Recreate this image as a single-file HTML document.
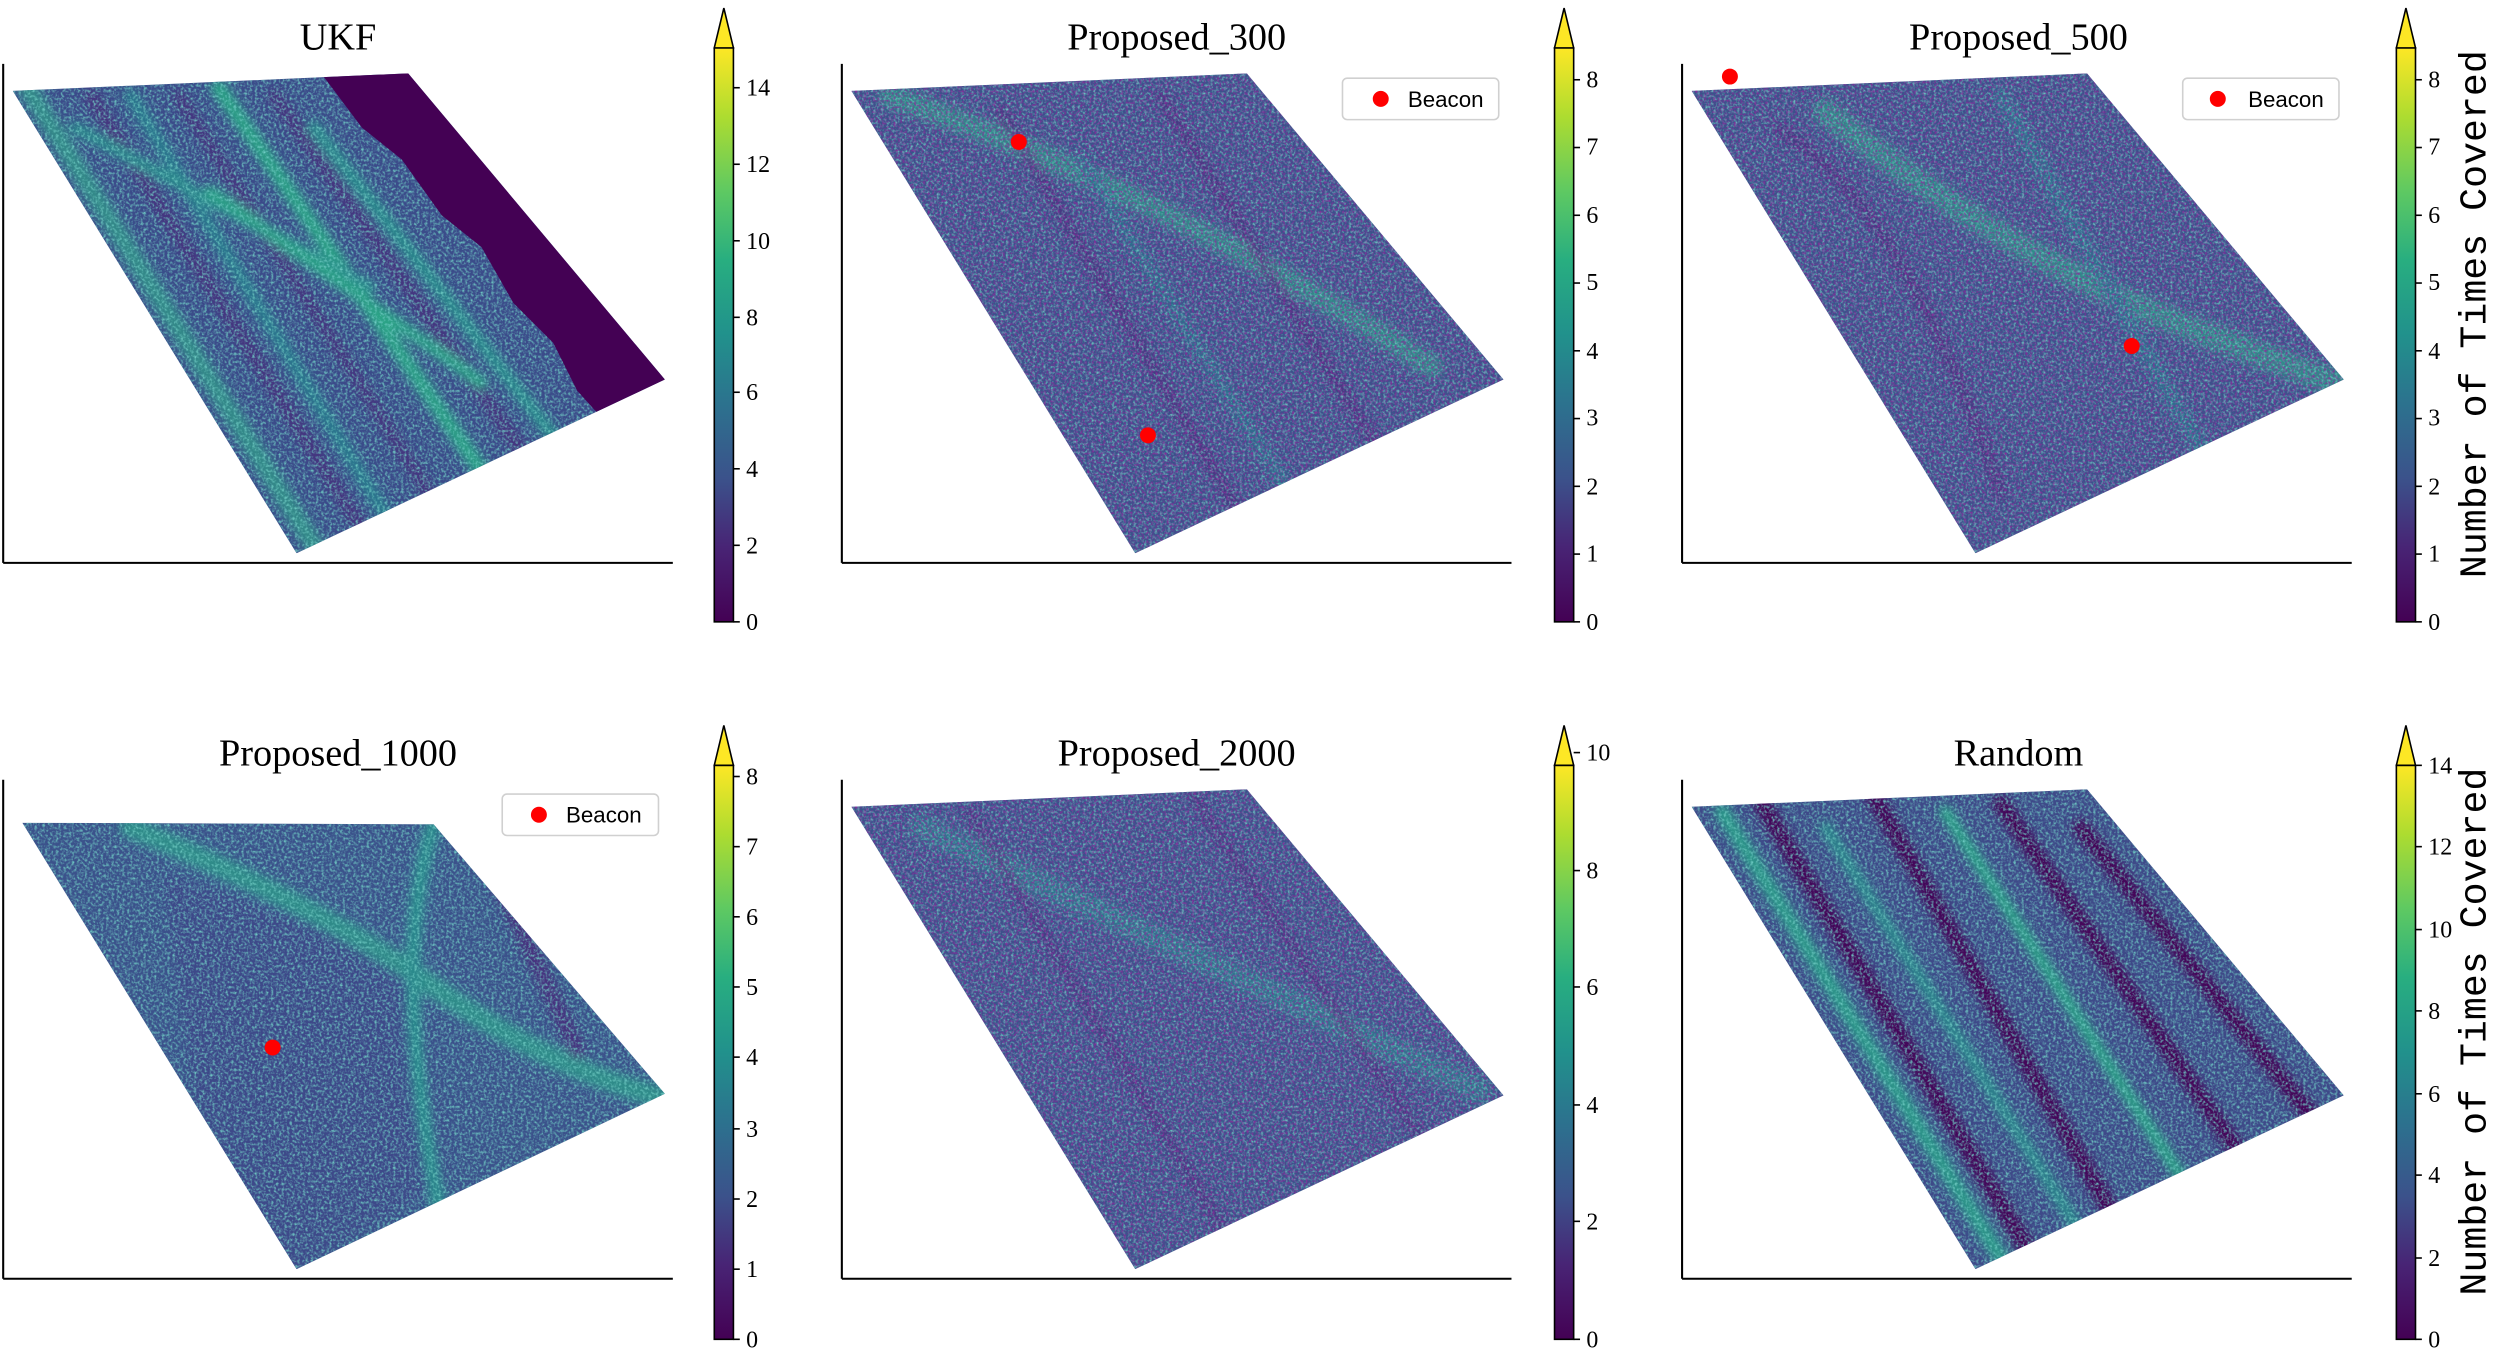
<!DOCTYPE html>
<html><head><meta charset="utf-8"><style>
html,body{margin:0;padding:0;background:#fff;}
svg{display:block;}
.t{font-family:"Liberation Serif",serif;font-size:24px;text-anchor:middle;fill:#000;}
.k{font-family:"Liberation Serif",serif;font-size:15px;fill:#000;}
.lg{font-family:"Liberation Sans",sans-serif;font-size:14px;fill:#000;}
.cl{font-family:"Liberation Mono",monospace;font-size:24px;fill:#000;}
</style></head><body>
<svg width="2500" height="1351" viewBox="0 0 1568 847.3" xmlns="http://www.w3.org/2000/svg">
<defs>
<linearGradient id="vir" x1="0" y1="1" x2="0" y2="0">
<stop offset="0" stop-color="#440154"/><stop offset="0.13" stop-color="#482475"/><stop offset="0.25" stop-color="#3b528b"/><stop offset="0.38" stop-color="#2c728e"/><stop offset="0.5" stop-color="#21918c"/><stop offset="0.63" stop-color="#28ae80"/><stop offset="0.75" stop-color="#5ec962"/><stop offset="0.88" stop-color="#addc30"/><stop offset="1" stop-color="#fde725"/>
</linearGradient>
<filter id="nz" x="0" y="0" width="100%" height="100%">
<feTurbulence type="fractalNoise" baseFrequency="0.6" numOctaves="2" seed="3"/>
<feColorMatrix values="0 0 0 0 0.16  0 0 0 0 0.6  0 0 0 0 0.55  2.2 0 0 0 -0.95"/>
</filter>
<filter id="nzd" x="0" y="0" width="100%" height="100%">
<feTurbulence type="fractalNoise" baseFrequency="0.7" numOctaves="2" seed="8"/>
<feColorMatrix values="0 0 0 0 0.27  0 0 0 0 0.02  0 0 0 0 0.33  0 2.2 0 0 -0.95"/>
</filter>
<filter id="bl"><feGaussianBlur stdDeviation="3"/></filter>
<clipPath id="pa"><polygon points="6,17 254,6 415,198 184,307"/></clipPath>
<clipPath id="pb"><polygon points="12,27 270,28 415,197 184,307"/></clipPath>
</defs>

<!-- ===== Panel 1 UKF ===== -->
<g transform="translate(2,40)">
<g clip-path="url(#pa)">
<rect x="0" y="0" width="420" height="310" fill="#3b4c8a"/>
<g filter="url(#bl)" stroke-linecap="round">
<line x1="15" y1="15" x2="200" y2="310" stroke="#2f9a8a" stroke-width="12" opacity="0.8"/>
<line x1="55" y1="20" x2="230" y2="300" stroke="#46327e" stroke-width="8"/>
<line x1="80" y1="20" x2="250" y2="300" stroke="#2a7b8e" stroke-width="9"/>
<line x1="110" y1="20" x2="280" y2="290" stroke="#46327e" stroke-width="7"/>
<line x1="135" y1="15" x2="310" y2="270" stroke="#2aa386" stroke-width="10"/>
<line x1="170" y1="20" x2="330" y2="250" stroke="#46327e" stroke-width="8"/>
<line x1="195" y1="40" x2="350" y2="240" stroke="#2a8a8c" stroke-width="9"/>
<line x1="45" y1="40" x2="230" y2="140" stroke="#2a8a8c" stroke-width="8"/>
<line x1="130" y1="80" x2="300" y2="200" stroke="#2aa386" stroke-width="8"/>
</g>
<rect x="0" y="0" width="420" height="310" filter="url(#nz)"/>
<polygon points="195,0 260,0 420,200 378,225 360,205 345,175 320,150 300,115 275,95 250,60 225,40" fill="#440154"/>
</g>
<line x1="0" y1="0" x2="0" y2="313" stroke="#000" stroke-width="1.3"/>
<line x1="0" y1="313" x2="420" y2="313" stroke="#000" stroke-width="1.3"/>
</g>
<text class="t" x="212" y="31">UKF</text>

<!-- ===== Panel 2 Proposed_300 ===== -->
<g transform="translate(528,40)">
<g clip-path="url(#pa)">
<rect x="0" y="0" width="420" height="310" fill="#3b528b"/>
<g filter="url(#bl)" stroke-linecap="round" fill="none">
<path d="M30,20 Q200,80 370,190" stroke="#2a9a89" stroke-width="14" opacity="0.8"/>
<line x1="100" y1="30" x2="260" y2="300" stroke="#46327e" stroke-width="6"/>
<line x1="200" y1="20" x2="360" y2="280" stroke="#46327e" stroke-width="6"/>
<line x1="150" y1="60" x2="300" y2="300" stroke="#2c728e" stroke-width="8"/>
</g>
<rect x="0" y="0" width="420" height="310" filter="url(#nz)"/>
<rect x="0" y="0" width="420" height="310" filter="url(#nzd)"/>
</g>
<circle cx="111" cy="49" r="5" fill="#ff0000"/>
<circle cx="192" cy="233" r="5" fill="#ff0000"/>
<line x1="0" y1="0" x2="0" y2="313" stroke="#000" stroke-width="1.3"/>
<line x1="0" y1="313" x2="420" y2="313" stroke="#000" stroke-width="1.3"/>
<rect x="314" y="9" width="98" height="26" rx="3" fill="#fff" stroke="#d0d0d0"/>
<circle cx="338" cy="22" r="5" fill="#ff0000"/>
<text class="lg" x="355" y="27">Beacon</text>
</g>
<text class="t" x="738" y="31">Proposed_300</text>

<!-- ===== Panel 3 Proposed_500 ===== -->
<g transform="translate(1055,40)">
<g clip-path="url(#pa)">
<rect x="0" y="0" width="420" height="310" fill="#3b528b"/>
<g filter="url(#bl)" stroke-linecap="round" fill="none">
<path d="M90,30 Q200,120 330,170 T415,198" stroke="#2a9a89" stroke-width="16" opacity="0.8"/>
<path d="M60,40 Q140,90 200,270" stroke="#46327e" stroke-width="6"/>
<line x1="200" y1="20" x2="330" y2="250" stroke="#2c728e" stroke-width="10"/>
</g>
<rect x="0" y="0" width="420" height="310" filter="url(#nz)"/>
<rect x="0" y="0" width="420" height="310" filter="url(#nzd)"/>
</g>
<circle cx="30" cy="8" r="5" fill="#ff0000"/>
<circle cx="282" cy="177" r="5" fill="#ff0000"/>
<line x1="0" y1="0" x2="0" y2="313" stroke="#000" stroke-width="1.3"/>
<line x1="0" y1="313" x2="420" y2="313" stroke="#000" stroke-width="1.3"/>
<rect x="314" y="9" width="98" height="26" rx="3" fill="#fff" stroke="#d0d0d0"/>
<circle cx="336" cy="22" r="5" fill="#ff0000"/>
<text class="lg" x="355" y="27">Beacon</text>
</g>
<text class="t" x="1266" y="31">Proposed_500</text>

<!-- ===== Panel 4 Proposed_1000 ===== -->
<g transform="translate(2,489)">
<g clip-path="url(#pb)">
<rect x="0" y="0" width="420" height="310" fill="#3b528b"/>
<polygon points="100,60 260,110 280,250 180,310 120,200" fill="#3e4a89" filter="url(#bl)"/>
<g filter="url(#bl)" stroke-linecap="round" fill="none">
<path d="M80,30 Q200,80 270,130 T415,200" stroke="#2a9a89" stroke-width="14" opacity="0.8"/>
<path d="M270,28 Q240,120 280,300" stroke="#2a8a8c" stroke-width="10"/>
<line x1="300" y1="40" x2="360" y2="170" stroke="#46327e" stroke-width="10"/>
</g>
<rect x="0" y="0" width="420" height="310" filter="url(#nz)"/>
</g>
<circle cx="169" cy="168" r="5" fill="#ff0000"/>
<line x1="0" y1="0" x2="0" y2="313" stroke="#000" stroke-width="1.3"/>
<line x1="0" y1="313" x2="420" y2="313" stroke="#000" stroke-width="1.3"/>
<rect x="313" y="9" width="98" height="26" rx="3" fill="#fff" stroke="#d0d0d0"/>
<circle cx="336" cy="22" r="5" fill="#ff0000"/>
<text class="lg" x="353" y="27">Beacon</text>
</g>
<text class="t" x="212" y="480">Proposed_1000</text>

<!-- ===== Panel 5 Proposed_2000 ===== -->
<g transform="translate(528,489)">
<g clip-path="url(#pa)">
<rect x="0" y="0" width="420" height="310" fill="#3b528b"/>
<g filter="url(#bl)" stroke-linecap="round" fill="none">
<path d="M50,30 Q200,100 400,195" stroke="#2c7f8e" stroke-width="16" opacity="0.8"/>
<line x1="80" y1="20" x2="250" y2="300" stroke="#46327e" stroke-width="5"/>
<line x1="220" y1="10" x2="380" y2="250" stroke="#46327e" stroke-width="5"/>
</g>
<rect x="0" y="0" width="420" height="310" filter="url(#nz)"/>
<rect x="0" y="0" width="420" height="310" filter="url(#nzd)"/>
</g>
<line x1="0" y1="0" x2="0" y2="313" stroke="#000" stroke-width="1.3"/>
<line x1="0" y1="313" x2="420" y2="313" stroke="#000" stroke-width="1.3"/>
</g>
<text class="t" x="738" y="480">Proposed_2000</text>

<!-- ===== Panel 6 Random ===== -->
<g transform="translate(1055,489)">
<g clip-path="url(#pa)">
<rect x="0" y="0" width="420" height="310" fill="#3e4a89"/>
<g filter="url(#bl)" stroke-linecap="round">
<line x1="25" y1="20" x2="200" y2="300" stroke="#2a9a89" stroke-width="10"/>
<line x1="50" y1="15" x2="220" y2="300" stroke="#440154" stroke-width="10"/>
<line x1="120" y1="10" x2="280" y2="290" stroke="#440154" stroke-width="10"/>
<line x1="165" y1="20" x2="320" y2="260" stroke="#2aa386" stroke-width="8"/>
<line x1="200" y1="15" x2="360" y2="250" stroke="#440154" stroke-width="10"/>
<line x1="250" y1="30" x2="410" y2="230" stroke="#440154" stroke-width="10"/>
<line x1="90" y1="30" x2="260" y2="300" stroke="#2a8a8c" stroke-width="8"/>
</g>
<rect x="0" y="0" width="420" height="310" filter="url(#nz)"/>
</g>
<line x1="0" y1="0" x2="0" y2="313" stroke="#000" stroke-width="1.3"/>
<line x1="0" y1="313" x2="420" y2="313" stroke="#000" stroke-width="1.3"/>
</g>
<text class="t" x="1266" y="480">Random</text>

<!-- ===== Colorbars ===== -->
<g stroke="#000" stroke-width="1">
<rect x="448" y="30" width="12" height="360" fill="url(#vir)"/><polygon points="448,30 454,5 460,30" fill="#fde725"/>
<rect x="975" y="30" width="12" height="360" fill="url(#vir)"/><polygon points="975,30 981,5 987,30" fill="#fde725"/>
<rect x="1503" y="30" width="12" height="360" fill="url(#vir)"/><polygon points="1503,30 1509,5 1515,30" fill="#fde725"/>
<rect x="448" y="480" width="12" height="360" fill="url(#vir)"/><polygon points="448,480 454,455 460,480" fill="#fde725"/>
<rect x="975" y="480" width="12" height="360" fill="url(#vir)"/><polygon points="975,480 981,455 987,480" fill="#fde725"/>
<rect x="1503" y="480" width="12" height="360" fill="url(#vir)"/><polygon points="1503,480 1509,455 1515,480" fill="#fde725"/>
</g>

<g stroke="#000" stroke-width="1">
<line x1="460" x2="464" y1="390" y2="390"/><line x1="460" x2="464" y1="342" y2="342"/><line x1="460" x2="464" y1="294" y2="294"/><line x1="460" x2="464" y1="246" y2="246"/><line x1="460" x2="464" y1="199" y2="199"/><line x1="460" x2="464" y1="151" y2="151"/><line x1="460" x2="464" y1="103" y2="103"/><line x1="460" x2="464" y1="55" y2="55"/>
<line x1="987" x2="991" y1="390" y2="390"/><line x1="987" x2="991" y1="347.5" y2="347.5"/><line x1="987" x2="991" y1="305" y2="305"/><line x1="987" x2="991" y1="262.5" y2="262.5"/><line x1="987" x2="991" y1="220" y2="220"/><line x1="987" x2="991" y1="177.5" y2="177.5"/><line x1="987" x2="991" y1="135" y2="135"/><line x1="987" x2="991" y1="92.5" y2="92.5"/><line x1="987" x2="991" y1="50" y2="50"/>
<line x1="1515" x2="1519" y1="390" y2="390"/><line x1="1515" x2="1519" y1="347.5" y2="347.5"/><line x1="1515" x2="1519" y1="305" y2="305"/><line x1="1515" x2="1519" y1="262.5" y2="262.5"/><line x1="1515" x2="1519" y1="220" y2="220"/><line x1="1515" x2="1519" y1="177.5" y2="177.5"/><line x1="1515" x2="1519" y1="135" y2="135"/><line x1="1515" x2="1519" y1="92.5" y2="92.5"/><line x1="1515" x2="1519" y1="50" y2="50"/>
<line x1="460" x2="464" y1="840" y2="840"/><line x1="460" x2="464" y1="796" y2="796"/><line x1="460" x2="464" y1="752" y2="752"/><line x1="460" x2="464" y1="708" y2="708"/><line x1="460" x2="464" y1="663" y2="663"/><line x1="460" x2="464" y1="619" y2="619"/><line x1="460" x2="464" y1="575" y2="575"/><line x1="460" x2="464" y1="531" y2="531"/><line x1="460" x2="464" y1="487" y2="487"/>
<line x1="987" x2="991" y1="840" y2="840"/><line x1="987" x2="991" y1="766" y2="766"/><line x1="987" x2="991" y1="693" y2="693"/><line x1="987" x2="991" y1="619" y2="619"/><line x1="987" x2="991" y1="546" y2="546"/><line x1="987" x2="991" y1="472" y2="472"/>
<line x1="1515" x2="1519" y1="840" y2="840"/><line x1="1515" x2="1519" y1="789" y2="789"/><line x1="1515" x2="1519" y1="737" y2="737"/><line x1="1515" x2="1519" y1="686" y2="686"/><line x1="1515" x2="1519" y1="634" y2="634"/><line x1="1515" x2="1519" y1="583" y2="583"/><line x1="1515" x2="1519" y1="531" y2="531"/><line x1="1515" x2="1519" y1="480" y2="480"/>
</g>
<g>
<text class="k" x="468" y="395">0</text><text class="k" x="468" y="347">2</text><text class="k" x="468" y="299">4</text><text class="k" x="468" y="251">6</text><text class="k" x="468" y="204">8</text><text class="k" x="468" y="156">10</text><text class="k" x="468" y="108">12</text><text class="k" x="468" y="60">14</text>
<text class="k" x="995" y="395">0</text><text class="k" x="995" y="352">1</text><text class="k" x="995" y="310">2</text><text class="k" x="995" y="267">3</text><text class="k" x="995" y="225">4</text><text class="k" x="995" y="182">5</text><text class="k" x="995" y="140">6</text><text class="k" x="995" y="97">7</text><text class="k" x="995" y="55">8</text>
<text class="k" x="1523" y="395">0</text><text class="k" x="1523" y="352">1</text><text class="k" x="1523" y="310">2</text><text class="k" x="1523" y="267">3</text><text class="k" x="1523" y="225">4</text><text class="k" x="1523" y="182">5</text><text class="k" x="1523" y="140">6</text><text class="k" x="1523" y="97">7</text><text class="k" x="1523" y="55">8</text>
<text class="k" x="468" y="845">0</text><text class="k" x="468" y="801">1</text><text class="k" x="468" y="757">2</text><text class="k" x="468" y="713">3</text><text class="k" x="468" y="668">4</text><text class="k" x="468" y="624">5</text><text class="k" x="468" y="580">6</text><text class="k" x="468" y="536">7</text><text class="k" x="468" y="492">8</text>
<text class="k" x="995" y="845">0</text><text class="k" x="995" y="771">2</text><text class="k" x="995" y="698">4</text><text class="k" x="995" y="624">6</text><text class="k" x="995" y="551">8</text><text class="k" x="995" y="477">10</text>
<text class="k" x="1523" y="845">0</text><text class="k" x="1523" y="794">2</text><text class="k" x="1523" y="742">4</text><text class="k" x="1523" y="691">6</text><text class="k" x="1523" y="639">8</text><text class="k" x="1523" y="588">10</text><text class="k" x="1523" y="536">12</text><text class="k" x="1523" y="485">14</text>
</g>
<text class="cl" transform="translate(1559,197) rotate(-90)" text-anchor="middle">Number of Times Covered</text>
<text class="cl" transform="translate(1559,647) rotate(-90)" text-anchor="middle">Number of Times Covered</text>
</svg>
</body></html>
